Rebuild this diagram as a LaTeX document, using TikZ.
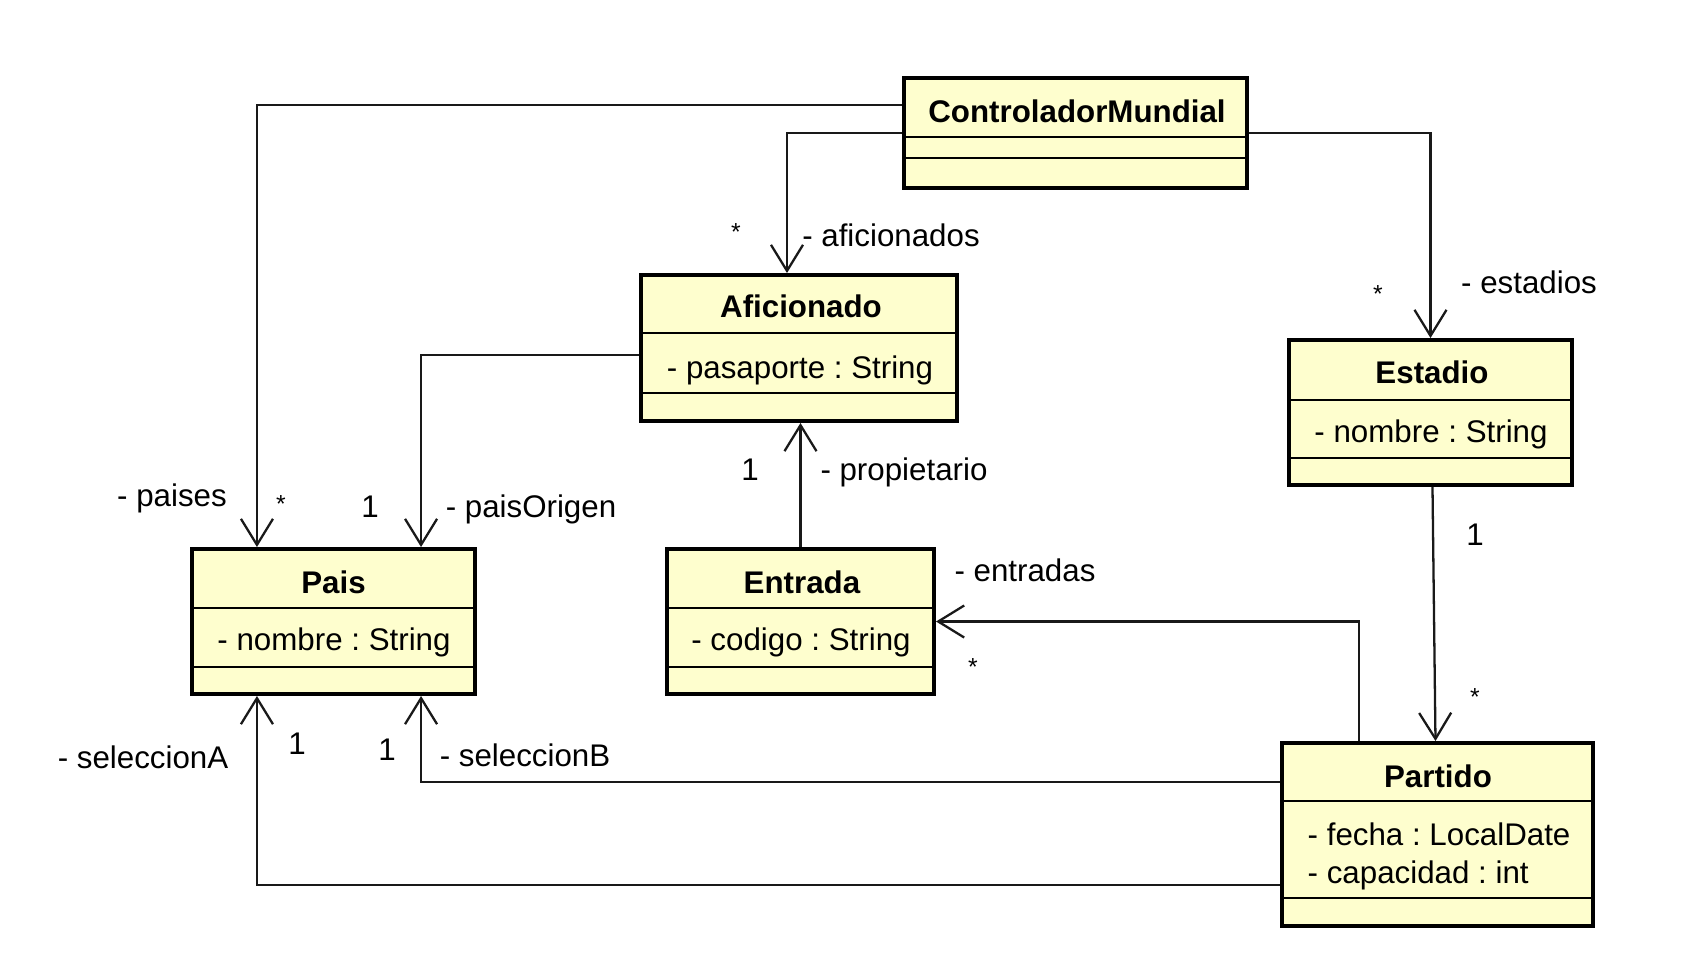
\documentclass[tikz,border=0pt]{standalone}
\usepackage{fontspec}
\setmainfont{Liberation Sans}
\usetikzlibrary{arrows.meta}
\definecolor{classfill}{HTML}{FEFECE}
\frenchspacing

\begin{document}
\begin{tikzpicture}[x=0.01cm,y=-0.01cm,
    classbox/.style={draw,line width=1.1pt,fill=classfill,inner sep=0pt},
    sepline/.style={line width=0.45pt},
    cname/.style={font=\fontsize{8.9}{11}\selectfont\bfseries,inner sep=0pt,anchor=base},
    attr/.style={font=\fontsize{8.9}{11}\selectfont,inner sep=0pt,anchor=base},
    assoc/.style={line width=0.65pt,black!90,-{Straight Barb[length=0.26cm,width=0.32cm]}},
    lbl/.style={font=\fontsize{8.9}{11}\selectfont,inner sep=0pt,anchor=base},
    star/.style={font=\fontsize{7}{9}\selectfont,inner sep=0pt,anchor=base}]
          \useasboundingbox (0,0) rectangle (1684,966);
          % classes
          \node[classbox,minimum width=3.43cm,minimum height=1.10cm] (ctrl) at (1075.5,133) {};
          \draw[sepline] (904,137)--(1247,137) (904,158)--(1247,158);
          \node[cname] (ctrlname) at (1077,122) {ControladorMundial};
          \node[classbox,minimum width=3.16cm,minimum height=1.46cm] (afic) at (799,348) {};
          \draw[sepline] (641,333)--(957,333) (641,393)--(957,393);
          \node[cname] (aficname) at (801,317) {Aficionado};
          \node[attr] (aficpas) at (800,378) {- pasaporte : String};
          \node[classbox,minimum width=2.83cm,minimum height=1.45cm] (pais) at (333.5,621.5) {};
          \draw[sepline] (192,608)--(475,608) (192,667)--(475,667);
          \node[cname] (paisname) at (333.5,593) {Pais};
          \node[attr] (paisnom) at (334,650) {- nombre : String};
          \node[classbox,minimum width=2.67cm,minimum height=1.45cm] (entr) at (800.5,621.5) {};
          \draw[sepline] (667,608)--(934,608) (667,667)--(934,667);
          \node[cname] (entrname) at (802,593) {Entrada};
          \node[attr] (entrcod) at (801,650) {- codigo : String};
          \node[classbox,minimum width=2.83cm,minimum height=1.45cm] (estad) at (1430.5,412.5) {};
          \draw[sepline] (1289,400)--(1572,400) (1289,458)--(1572,458);
          \node[cname] (estadname) at (1432,383) {Estadio};
          \node[attr] (estadnom) at (1431,442) {- nombre : String};
          \node[classbox,minimum width=3.11cm,minimum height=1.83cm] (part) at (1437.5,834.5) {};
          \draw[sepline] (1282,801)--(1593,801) (1282,898)--(1593,898);
          \node[cname] (partname) at (1438,787) {Partido};
          \node[attr,anchor=base west] (partfec) at (1307,845) {- fecha : LocalDate};
          \node[attr,anchor=base west] (partcap) at (1307,883) {- capacidad : int};
          % associations
          \draw[assoc] ([yshift=0.28cm]ctrl.west) -| ([xshift=-0.765cm]pais.north);
          \draw[assoc] (ctrl.west) -| ([xshift=-0.12cm]afic.north);
          \draw[assoc] (ctrl.east) -| (estad.north);
          \draw[assoc] ([yshift=-0.07cm]afic.west) -| ([xshift=0.875cm]pais.north);
          \draw[assoc] (entr.north) -- (entr.north |- afic.south);
          \draw[assoc] ([xshift=0.02cm]estad.south) -- ([xshift=-0.02cm]part.north);
          \draw[assoc] ([xshift=-0.785cm]part.north) |- (entr.east);
          \draw[assoc] ([yshift=0.525cm]part.west) -| ([xshift=0.875cm]pais.south);
          \draw[assoc] ([yshift=-0.505cm]part.west) -| ([xshift=-0.765cm]pais.south);
          % roles and multiplicities
          \node[lbl] (rpaises) at (172,506) {- paises};
          \node[star] (mpaises) at (281,512) {*};
          \node[lbl] (morigen) at (370,517) {1};
          \node[lbl] (rorigen) at (531,517) {- paisOrigen};
          \node[star] (mafic) at (736,240) {*};
          \node[lbl] (rafic) at (891,246) {- aficionados};
          \node[star] (mestad) at (1378,302) {*};
          \node[lbl] (restad) at (1529,293) {- estadios};
          \node[lbl] (mprop) at (750,480) {1};
          \node[lbl] (rprop) at (904,480) {- propietario};
          \node[lbl] (mestpart) at (1475,545) {1};
          \node[star] (mpartido) at (1475,705) {*};
          \node[lbl] (rentr) at (1025,581) {- entradas};
          \node[star] (mentr) at (973,675) {*};
          \node[lbl] (mselb) at (387,760) {1};
          \node[lbl] (rselb) at (525,766) {- seleccionB};
          \node[lbl] (msela) at (297,754) {1};
          \node[lbl] (rsela) at (143,768) {- seleccionA};
\end{tikzpicture}
\end{document}
